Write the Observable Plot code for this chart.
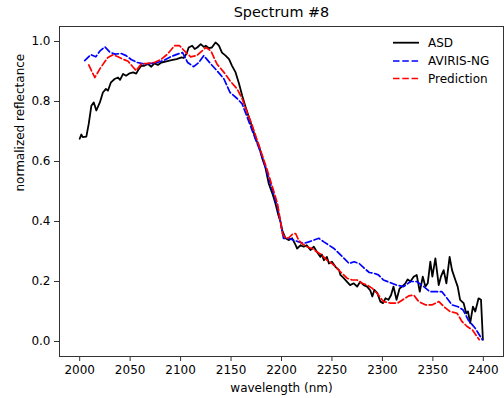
<!DOCTYPE html>
<html>
<head>
<meta charset="utf-8">
<script src="https://cdn.jsdelivr.net/npm/d3@7"></script>
<script src="https://cdn.jsdelivr.net/npm/@observablehq/plot@0.6"></script>
<style>
  html, body { margin: 0; padding: 0; background: #fff; }
  svg { font-family: "DejaVu Sans", sans-serif; }
</style>
</head>
<body>
<div id="chart"></div>
<script>
const title = "Spectrum #8";
const xLabel = "wavelength (nm)";
const yLabel = "normalized reflectance";
const xTicks = [2000, 2050, 2100, 2150, 2200, 2250, 2300, 2350, 2400];
const yTicks = [0.0, 0.2, 0.4, 0.6, 0.8, 1.0];
const seriesNames = ["ASD", "AVIRIS-NG", "Prediction"];
const seriesColors = ["black", "blue", "red"];

const asdWl = [2000,2001.6,2003,2006.6,2009,2011.6,2014,2016.5,2020,2023,2026,2028,2031,2034.6,2038,2040,2043,2046,2049.5,2053,2056,2058,2061,2064,2067.6,2071,2074,2077.5,2081,2086,2091,2096,2101,2103,2106,2108,2111.5,2114,2116.5,2120,2123,2125,2128,2131,2134.6,2136,2138,2141,2144.6,2148,2151,2154.5,2158,2161,2164,2167.6,2171,2174.3,2177.5,2181,2184,2187.4,2191,2194,2197,2199,2200.6,2204,2207,2210.6,2214,2215.5,2219,2222,2225,2228.7,2232,2235,2238.6,2240,2242,2245,2247,2250,2253.5,2257,2258.4,2261.7,2265,2268,2271.6,2275,2278,2281.5,2284.8,2288,2290,2292,2295,2298,2300.6,2303,2306,2308.6,2311,2314,2317,2319.5,2322.8,2325,2327.7,2331,2334,2337,2340,2342.6,2344.9,2347.5,2349.5,2352.5,2355.8,2358,2360.7,2363.4,2366.6,2369,2372.3,2374.6,2377,2380.5,2383,2384.8,2387,2389.7,2392,2395.3,2397.7,2399.6];
const asdVal = [0.676,0.690,0.681,0.683,0.726,0.786,0.797,0.770,0.797,0.830,0.842,0.836,0.864,0.875,0.880,0.872,0.892,0.886,0.894,0.897,0.893,0.905,0.919,0.919,0.925,0.916,0.927,0.922,0.930,0.934,0.938,0.941,0.947,0.945,0.960,0.980,0.986,0.975,0.980,0.991,0.982,0.986,0.978,0.980,0.997,0.993,0.986,0.963,0.953,0.941,0.919,0.897,0.858,0.820,0.786,0.748,0.714,0.676,0.653,0.609,0.581,0.526,0.493,0.460,0.420,0.400,0.371,0.344,0.338,0.344,0.321,0.310,0.321,0.316,0.321,0.305,0.316,0.299,0.282,0.290,0.271,0.282,0.260,0.266,0.249,0.238,0.222,0.211,0.199,0.188,0.194,0.183,0.199,0.188,0.183,0.170,0.150,0.172,0.161,0.133,0.128,0.144,0.139,0.155,0.183,0.139,0.177,0.183,0.194,0.207,0.200,0.216,0.222,0.166,0.216,0.183,0.194,0.266,0.216,0.277,0.188,0.216,0.238,0.194,0.282,0.238,0.205,0.183,0.139,0.128,0.094,0.100,0.061,0.116,0.100,0.144,0.139,0.006];

const avirisWl = [2005,2011,2016,2020,2025,2030,2035,2041,2046,2051,2057,2064,2071,2077,2084,2090,2097,2102,2107,2113,2118,2123,2130,2136,2143,2149,2156,2161,2166,2171,2176,2181,2186,2191,2196,2202,2207,2212,2217,2222,2227,2232,2237,2242,2247,2252,2257,2262,2267,2272,2277,2282,2287,2292,2296,2301,2308,2314,2321,2328,2334,2341,2347,2354,2359,2364,2369,2375,2380,2385,2392,2399];
const avirisVal = [0.936,0.956,0.949,0.968,0.982,0.964,0.958,0.960,0.953,0.940,0.930,0.925,0.927,0.930,0.938,0.949,0.958,0.963,0.930,0.916,0.930,0.953,0.925,0.903,0.875,0.830,0.810,0.792,0.748,0.703,0.659,0.615,0.560,0.504,0.449,0.344,0.344,0.338,0.332,0.327,0.332,0.338,0.344,0.332,0.321,0.310,0.294,0.277,0.260,0.266,0.260,0.244,0.230,0.227,0.222,0.205,0.196,0.188,0.183,0.200,0.200,0.183,0.166,0.166,0.166,0.144,0.122,0.116,0.105,0.072,0.044,0.006];

const predWl = [2009,2015,2021,2028,2033,2038,2043,2048,2053,2056,2061,2067,2074,2081,2087,2094,2099,2102,2107,2110,2116,2125,2130,2136,2143,2149,2156,2161,2166,2171,2176,2181,2186,2191,2196,2201,2204,2207,2211,2214,2217,2220,2225,2230,2235,2240,2245,2250,2255,2260,2265,2270,2275,2280,2285,2290,2295,2301,2308,2315,2321,2326,2331,2336,2343,2349,2356,2361,2367,2374,2379,2384,2389,2396];
const predVal = [0.922,0.880,0.914,0.947,0.956,0.949,0.941,0.934,0.914,0.903,0.925,0.927,0.930,0.941,0.958,0.986,0.986,0.975,0.958,0.949,0.953,0.980,0.969,0.925,0.897,0.869,0.842,0.809,0.764,0.720,0.670,0.620,0.570,0.515,0.460,0.360,0.344,0.345,0.358,0.360,0.338,0.327,0.316,0.310,0.299,0.288,0.271,0.260,0.244,0.227,0.211,0.205,0.205,0.194,0.188,0.177,0.160,0.133,0.128,0.128,0.141,0.152,0.155,0.133,0.122,0.122,0.133,0.116,0.100,0.094,0.066,0.050,0.039,0.006];

const toRows = (wl, val) => wl.map((w, i) => ({wl: w, v: val[i]}));
const asd = toRows(asdWl, asdVal);
const aviris = toRows(avirisWl, avirisVal);
const pred = toRows(predWl, predVal);

const dash = "6.5,2.8";
const chart = Plot.plot({
  width: 504,
  height: 398,
  marginLeft: 59,
  marginRight: 1,
  marginTop: 26,
  marginBottom: 42,
  style: {fontFamily: "DejaVu Sans, sans-serif", fontSize: "12px", background: "white", color: "black"},
  x: {domain: [1980, 2420]},
  y: {domain: [-0.05, 1.05]},
  marks: [
    Plot.line(asd, {x: "wl", y: "v", stroke: seriesColors[0], strokeWidth: 1.8}),
    Plot.line(aviris, {x: "wl", y: "v", stroke: seriesColors[1], strokeWidth: 1.7, strokeDasharray: dash}),
    Plot.line(pred, {x: "wl", y: "v", stroke: seriesColors[2], strokeWidth: 1.7, strokeDasharray: dash}),
    Plot.frame({stroke: "#333", strokeWidth: 1}),
    Plot.axisX({ticks: xTicks, tickSize: 5, tickPadding: 4, tickFormat: d3.format("d"), label: null, fontSize: 12, stroke: "#333"}),
    Plot.axisY({ticks: yTicks, tickSize: 5, tickPadding: 4, tickFormat: d3.format(".1f"), label: null, fontSize: 12, stroke: "#333"}),
    Plot.text([xLabel], {text: d => d, frameAnchor: "bottom", dy: 32, lineAnchor: "middle", fontSize: 12}),
    Plot.text([yLabel], {text: d => d, frameAnchor: "left", dx: -39, rotate: -90, lineAnchor: "middle", fontSize: 12}),
    Plot.text([title], {text: d => d, frameAnchor: "top", dy: -14, lineAnchor: "middle", fontSize: 14.4})
  ]
});
document.getElementById("chart").appendChild(chart);

// legend (top right, inside axes)
const svg = d3.select(chart);
const lg = svg.append("g")
  .attr("font-size", 12)
  .attr("font-family", "DejaVu Sans, sans-serif")
  .attr("text-anchor", "start");
const rowsY = [42.7, 61, 78.5];
seriesNames.forEach((name, i) => {
  lg.append("line")
    .attr("x1", 393).attr("x2", 419).attr("y1", rowsY[i]).attr("y2", rowsY[i])
    .attr("stroke", seriesColors[i])
    .attr("stroke-width", i === 0 ? 1.8 : 1.7)
    .attr("stroke-dasharray", i === 0 ? null : dash);
  lg.append("text")
    .attr("x", 428).attr("y", rowsY[i]).attr("dy", "0.35em")
    .attr("text-anchor", "start")
    .attr("fill", "black")
    .text(name);
});
</script>
</body>
</html>
